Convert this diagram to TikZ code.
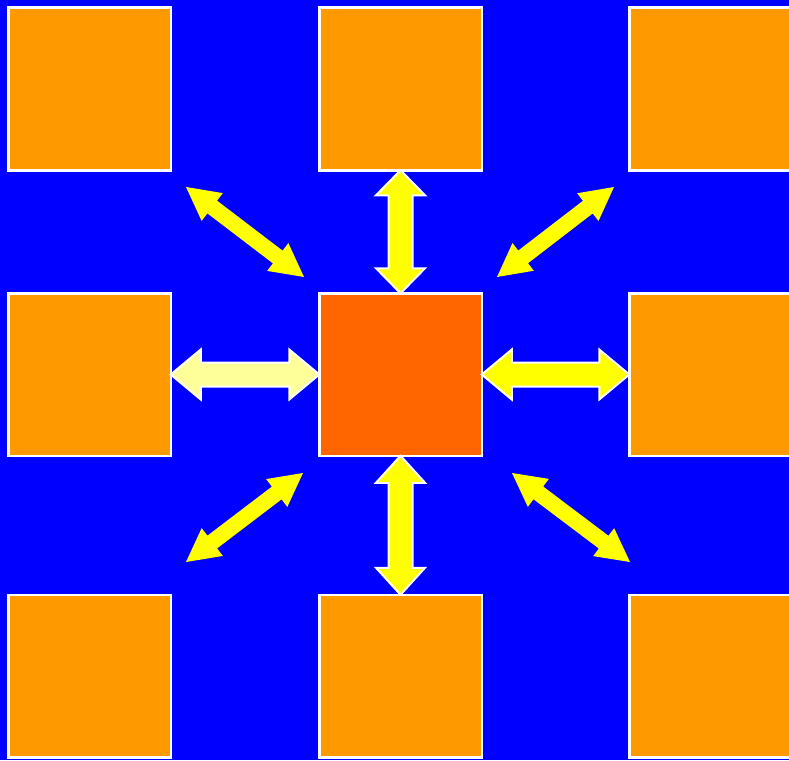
\documentclass[tikz,border=0pt]{standalone}
\usetikzlibrary{calc}
\definecolor{bgblue}{HTML}{0000FF}
\definecolor{boxorange}{HTML}{FF9900}
\definecolor{hubred}{HTML}{FF6600}
\definecolor{arryellow}{HTML}{FFFF00}
\definecolor{arrpale}{HTML}{FFFF99}
\newcommand\dblarr[6]{%
  \coordinate (da) at ($(#2)!#6!(#3)$);
  \coordinate (db) at ($(#3)!#6!(#2)$);
  \path[#1] (#2) -- ($(da)!#5!90:(#3)$) -- ($(da)!#4!90:(#3)$)
    -- ($(db)!#4!-90:(#2)$) -- ($(db)!#5!-90:(#2)$) -- (#3)
    -- ($(db)!#5!90:(#2)$) -- ($(db)!#4!90:(#2)$)
    -- ($(da)!#4!-90:(#3)$) -- ($(da)!#5!-90:(#3)$) -- cycle;
}
\tikzset{
  box/.style={draw=white, line width=2.5pt, fill=boxorange, minimum size=162.5pt, inner sep=0pt, outer sep=0pt},
  hub/.style={box, fill=hubred},
  outarr/.style={fill=arryellow, draw=white, line width=2pt, line join=miter},
  palearr/.style={outarr, fill=arrpale},
  diagarr/.style={fill=arryellow},
}
\begin{document}
\begin{tikzpicture}[x=1pt,y=-1pt]
\fill[bgblue] (0,0) rectangle (789,760);
\useasboundingbox (0,0) rectangle (789,760);
\clip (0,0) rectangle (789,760);
\node[box] (nw) at (89.5,89) {};
\node[box] (n)  at (400.5,89) {};
\node[box] (ne) at (710.5,89) {};
\node[box] (w)  at (89.5,374.5) {};
\node[hub] (c)  at (400.5,374.5) {};
\node[box] (e)  at (710.5,374.5) {};
\node[box] (sw) at (89.5,676) {};
\node[box] (s)  at (400.5,676) {};
\node[box] (se) at (710.5,676) {};
% straight arrows
\dblarr{outarr}{n.south}{c.north}{12pt}{24.5pt}{25pt}
\dblarr{outarr}{c.south}{s.north}{12pt}{24.5pt}{27pt}
\dblarr{palearr}{w.east}{c.west}{12pt}{25pt}{30pt}
\dblarr{outarr}{c.east}{e.west}{12pt}{25pt}{30pt}
% diagonal arrows
\coordinate (nwa) at (186,187);
\coordinate (nwb) at (304,277);
\coordinate (nea) at (614,187);
\coordinate (neb) at (497,277);
\coordinate (swa) at (303,473);
\coordinate (swb) at (186,562);
\coordinate (sea) at (512,473);
\coordinate (seb) at (630,562);
\dblarr{diagarr}{nwa}{nwb}{8pt}{17.5pt}{33pt}
\dblarr{diagarr}{nea}{neb}{8pt}{17.5pt}{33pt}
\dblarr{diagarr}{swa}{swb}{8pt}{17.5pt}{33pt}
\dblarr{diagarr}{sea}{seb}{8pt}{17.5pt}{33pt}
\end{tikzpicture}
\end{document}
